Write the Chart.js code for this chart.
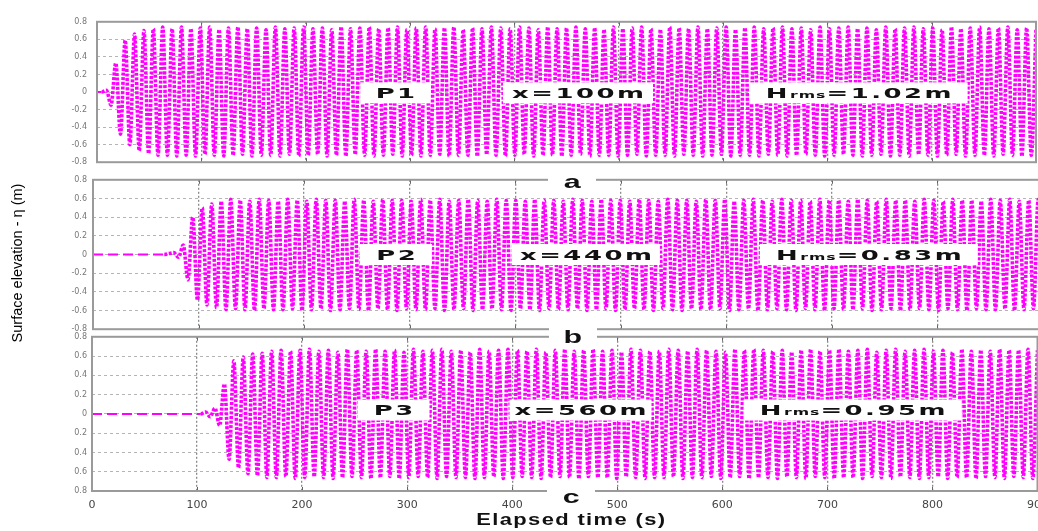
<!DOCTYPE html>
<html>
<head>
<meta charset="utf-8">
<script src="https://cdn.jsdelivr.net/npm/chart.js@4.4.1/dist/chart.umd.min.js"></script>
<style>
  html, body { margin: 0; padding: 0; background: #fff; overflow: hidden; }
  #stage { position: relative; width: 1038px; height: 531px; overflow: hidden; background: #fff; }
  #stage canvas { position: absolute; left: 0; }
  .tag { position: absolute; width: 48px; height: 14px; line-height: 14px; background: #fff; text-align: center;
         font: bold 19px "Liberation Sans", Arial, sans-serif; color: #111; }
  .tag span { display: inline-block; transform: scaleX(1.6); }
  #xtitle { position: absolute; left: 371px; top: 511px; width: 400px; height: 20px; line-height: 20px; text-align: center;
            font: bold 16px "Liberation Sans", Arial, sans-serif; color: #111; }
  #xtitle span { display: inline-block; transform: scaleX(1.37); letter-spacing: 1px; }
  #ytitle { position: absolute; left: -81px; top: 253px; width: 200px; height: 20px; line-height: 20px; text-align: center;
            font: 14.5px "Liberation Sans", Arial, sans-serif; color: #000; transform: rotate(-90deg); }
</style>
</head>
<body>
<div id="stage">
  <canvas id="panelA" width="1048" height="170" style="top:7px;width:1048px;height:170px"></canvas>
  <canvas id="panelB" width="1055" height="171" style="top:169px;width:1055px;height:171px"></canvas>
  <canvas id="panelC" width="1056" height="189" style="top:327px;width:1056px;height:189px"></canvas>
  <div class="tag" style="left:548px;top:171px"><span>a</span></div>
  <div class="tag" style="left:549px;top:326px"><span>b</span></div>
  <div class="tag" style="left:547px;top:486px"><span>c</span></div>
  <div id="xtitle"><span>Elapsed time (s)</span></div>
  <div id="ytitle">Surface elevation - η (m)</div>
</div>
<script>
// Sample times (s) of the crest / trough record
const timeS = [
  0,4.5,9,13.5,18,22.5,27,31.5,36,40.5,
  45,49.5,54,58.5,63,67.5,72,76.5,81,85.5,
  90,94.5,99,103.5,108,112.5,117,121.5,126,130.5,
  135,139.5,144,148.5,153,157.5,162,166.5,171,175.5,
  180,184.5,189,193.5,198,202.5,207,211.5,216,220.5,
  225,229.5,234,238.5,243,247.5,252,256.5,261,265.5,
  270,274.5,279,283.5,288,292.5,297,301.5,306,310.5,
  315,319.5,324,328.5,333,337.5,342,346.5,351,355.5,
  360,364.5,369,373.5,378,382.5,387,391.5,396,400.5,
  405,409.5,414,418.5,423,427.5,432,436.5,441,445.5,
  450,454.5,459,463.5,468,472.5,477,481.5,486,490.5,
  495,499.5,504,508.5,513,517.5,522,526.5,531,535.5,
  540,544.5,549,553.5,558,562.5,567,571.5,576,580.5,
  585,589.5,594,598.5,603,607.5,612,616.5,621,625.5,
  630,634.5,639,643.5,648,652.5,657,661.5,666,670.5,
  675,679.5,684,688.5,693,697.5,702,706.5,711,715.5,
  720,724.5,729,733.5,738,742.5,747,751.5,756,760.5,
  765,769.5,774,778.5,783,787.5,792,796.5,801,805.5,
  810,814.5,819,823.5,828,832.5,837,841.5,846,850.5,
  855,859.5,864,868.5,873,877.5,882,886.5,891,895.5,
  900
];

// Surface elevation (m) at P1, x = 100 m
const etaP1 = [
  0, 0, 0.02, -0.15, 0.33, -0.48, 0.59, -0.60, 0.66, -0.67,
  0.70, -0.70, 0.72, -0.72, 0.74, -0.72, 0.72, -0.73, 0.74, -0.72,
  0.72, -0.73, 0.73, -0.71, 0.74, -0.72, 0.71, -0.73, 0.73, -0.72,
  0.74, -0.71, 0.72, -0.73, 0.73, -0.72, 0.71, -0.72, 0.74, -0.73,
  0.72, -0.71, 0.73, -0.73, 0.74, -0.72, 0.72, -0.71, 0.73, -0.73,
  0.71, -0.72, 0.74, -0.73, 0.72, -0.71, 0.73, -0.72, 0.74, -0.73,
  0.72, -0.72, 0.73, -0.71, 0.74, -0.73, 0.71, -0.72, 0.73, -0.73,
  0.74, -0.72, 0.72, -0.71, 0.73, -0.73, 0.74, -0.72, 0.71, -0.72,
  0.73, -0.73, 0.72, -0.71, 0.74, -0.72, 0.73, -0.73, 0.72, -0.72,
  0.74, -0.71, 0.73, -0.73, 0.71, -0.72, 0.74, -0.72, 0.72, -0.73,
  0.73, -0.72, 0.74, -0.71, 0.72, -0.73, 0.73, -0.72, 0.71, -0.72,
  0.74, -0.73, 0.72, -0.72, 0.73, -0.71, 0.74, -0.73, 0.72, -0.72,
  0.71, -0.72, 0.74, -0.73, 0.73, -0.71, 0.72, -0.72, 0.74, -0.73,
  0.72, -0.72, 0.73, -0.71, 0.74, -0.73, 0.71, -0.72, 0.73, -0.72,
  0.74, -0.73, 0.72, -0.71, 0.73, -0.72, 0.74, -0.73, 0.72, -0.72,
  0.73, -0.71, 0.71, -0.72, 0.74, -0.73, 0.72, -0.72, 0.73, -0.71,
  0.74, -0.72, 0.72, -0.73, 0.73, -0.72, 0.71, -0.71, 0.74, -0.73,
  0.72, -0.72, 0.73, -0.73, 0.74, -0.71, 0.72, -0.72, 0.73, -0.73,
  0.71, -0.72, 0.74, -0.71, 0.72, -0.73, 0.73, -0.72, 0.74, -0.72,
  0.72, -0.73, 0.73, -0.71, 0.74, -0.72, 0.71, -0.73, 0.73, -0.72,
  0.72
];

// Surface elevation (m) at P2, x = 440 m
const etaP2 = [
  0, 0, 0, 0, 0, 0, 0, 0, 0, 0,
  0, 0, 0, 0, 0, 0, 0.01, 0.02, -0.03, 0.10,
  -0.27, 0.40, -0.49, 0.50, -0.54, 0.54, -0.57, 0.57, -0.59, 0.59,
  -0.58, 0.58, -0.59, 0.57, -0.60, 0.59, -0.58, 0.58, -0.59, 0.57,
  -0.59, 0.59, -0.58, 0.58, -0.60, 0.57, -0.59, 0.59, -0.58, 0.58,
  -0.60, 0.58, -0.59, 0.57, -0.58, 0.59, -0.59, 0.58, -0.60, 0.57,
  -0.58, 0.59, -0.59, 0.58, -0.60, 0.58, -0.58, 0.57, -0.59, 0.59,
  -0.59, 0.58, -0.58, 0.59, -0.60, 0.57, -0.59, 0.58, -0.58, 0.59,
  -0.60, 0.58, -0.59, 0.57, -0.58, 0.59, -0.59, 0.58, -0.60, 0.58,
  -0.58, 0.57, -0.59, 0.59, -0.60, 0.58, -0.58, 0.58, -0.59, 0.57,
  -0.59, 0.59, -0.58, 0.58, -0.60, 0.57, -0.59, 0.59, -0.58, 0.58,
  -0.60, 0.58, -0.59, 0.57, -0.58, 0.59, -0.59, 0.58, -0.60, 0.57,
  -0.58, 0.59, -0.59, 0.58, -0.60, 0.58, -0.58, 0.57, -0.59, 0.59,
  -0.59, 0.58, -0.58, 0.59, -0.60, 0.57, -0.59, 0.58, -0.58, 0.59,
  -0.60, 0.58, -0.59, 0.57, -0.58, 0.59, -0.59, 0.58, -0.60, 0.58,
  -0.58, 0.57, -0.59, 0.59, -0.60, 0.58, -0.58, 0.58, -0.59, 0.57,
  -0.59, 0.59, -0.58, 0.58, -0.60, 0.57, -0.59, 0.59, -0.58, 0.58,
  -0.60, 0.58, -0.59, 0.57, -0.58, 0.59, -0.59, 0.58, -0.60, 0.57,
  -0.58, 0.59, -0.59, 0.58, -0.60, 0.58, -0.58, 0.57, -0.59, 0.59,
  -0.59, 0.58, -0.58, 0.59, -0.60, 0.57, -0.59, 0.58, -0.58, 0.59,
  -0.59
];

// Surface elevation (m) at P3, x = 560 m
const etaP3 = [
  0, 0, 0, 0, 0, 0, 0, 0, 0, 0,
  0, 0, 0, 0, 0, 0, 0, 0, 0, 0,
  0, 0, 0, 0, 0.02, -0.03, 0.06, -0.12, 0.31, -0.47,
  0.55, -0.56, 0.59, -0.62, 0.62, -0.64, 0.63, -0.66, 0.65, -0.66,
  0.66, -0.65, 0.65, -0.67, 0.66, -0.66, 0.67, -0.65, 0.65, -0.66,
  0.66, -0.67, 0.64, -0.66, 0.67, -0.65, 0.66, -0.66, 0.65, -0.67,
  0.67, -0.66, 0.65, -0.65, 0.66, -0.67, 0.64, -0.66, 0.67, -0.65,
  0.65, -0.66, 0.66, -0.67, 0.67, -0.65, 0.65, -0.66, 0.66, -0.66,
  0.64, -0.67, 0.67, -0.66, 0.65, -0.65, 0.66, -0.67, 0.67, -0.66,
  0.66, -0.65, 0.65, -0.66, 0.67, -0.67, 0.64, -0.66, 0.66, -0.65,
  0.67, -0.66, 0.65, -0.67, 0.66, -0.65, 0.67, -0.66, 0.65, -0.66,
  0.66, -0.67, 0.64, -0.65, 0.67, -0.66, 0.66, -0.67, 0.65, -0.66,
  0.65, -0.66, 0.67, -0.65, 0.66, -0.67, 0.65, -0.66, 0.67, -0.66,
  0.66, -0.65, 0.65, -0.67, 0.64, -0.66, 0.67, -0.65, 0.66, -0.67,
  0.67, -0.66, 0.66, -0.66, 0.65, -0.67, 0.66, -0.65, 0.64, -0.66,
  0.66, -0.67, 0.67, -0.65, 0.65, -0.66, 0.66, -0.67, 0.67, -0.66,
  0.65, -0.66, 0.66, -0.67, 0.67, -0.65, 0.64, -0.66, 0.66, -0.67,
  0.67, -0.65, 0.65, -0.66, 0.66, -0.67, 0.67, -0.66, 0.65, -0.65,
  0.66, -0.67, 0.64, -0.66, 0.67, -0.66, 0.65, -0.67, 0.66, -0.65,
  0.65, -0.66, 0.67, -0.67, 0.66, -0.65, 0.66, -0.66, 0.67, -0.67,
  0.66
];

// Axis ticks
const xTickValues = [0, 100, 200, 300, 400, 500, 600, 700, 800, 900];
const xTickLabels = ['0', '100', '200', '300', '400', '500', '600', '700', '800', '900'];
const yTickValues = [-0.8, -0.6, -0.4, -0.2, 0, 0.2, 0.4, 0.6, 0.8];
const yTickLabelsA = ['-0.8', '-0.6', '-0.4', '-0.2', '0', '0.2', '0.4', '0.6', '0.8'];
const yTickLabelsB = ['-0.8', '-0.6', '-0.4', '-0.2', '0', '0.2', '0.4', '0.6', '0.8'];
const yTickLabelsC = ['0.8', '0.6', '0.4', '0.2', '0', '0.2', '0.4', '0.6', '0.8'];

// Station annotations: [text, style] parts
const notesA = [
  { t: 286, v: -0.01, w: 70, parts: [['P1', 'big']] },
  { t: 461, v: -0.01, w: 150, parts: [['x=100m', 'big']] },
  { t: 730, v: -0.01, w: 218, parts: [['H', 'big'], ['rms', 'sub'], ['=1.02m', 'big']] }
];
const notesB = [
  { t: 287, v: 0, w: 72, parts: [['P2', 'big']] },
  { t: 467, v: 0, w: 148, parts: [['x=440m', 'big']] },
  { t: 735, v: 0, w: 218, parts: [['H', 'big'], ['rms', 'sub'], ['=0.83m', 'big']] }
];
const notesC = [
  { t: 287, v: 0.04, w: 72, parts: [['P3', 'big']] },
  { t: 465, v: 0.04, w: 142, parts: [['x=560m', 'big']] },
  { t: 724, v: 0.04, w: 218, parts: [['H', 'big'], ['rms', 'sub'], ['=0.95m', 'big']] }
];

const MAGENTA = '#ff00ff';
const BIG_FONT = 'bold 14px "DejaVu Sans", sans-serif';
const SUB_FONT = 'bold 8.5px "DejaVu Sans", sans-serif';
const STRETCH = 1.85;

// Box frame with inward tick marks
const framePlugin = {
  id: 'frame',
  afterDatasetsDraw(chart) {
    const { ctx, chartArea: a, scales } = chart;
    ctx.save();
    ctx.strokeStyle = '#666';
    ctx.lineWidth = 1;
    xTickValues.forEach(v => {
      const px = Math.round(scales.x.getPixelForValue(v)) + 0.5;
      ctx.beginPath();
      ctx.moveTo(px, a.top); ctx.lineTo(px, a.top + 4);
      ctx.moveTo(px, a.bottom); ctx.lineTo(px, a.bottom - 4);
      ctx.stroke();
    });
    ctx.strokeStyle = '#9a9a9a';
    ctx.lineWidth = 2;
    ctx.strokeRect(a.left, a.top, a.right - a.left, a.bottom - a.top);
    ctx.restore();
  }
};

// White label boxes with wide bold lettering
const notesPlugin = {
  id: 'panelNotes',
  afterDraw(chart, args, opts) {
    const { ctx, scales } = chart;
    const boxH = 21;
    (opts.notes || []).forEach(n => {
      const cx = scales.x.getPixelForValue(n.t);
      const cy = scales.y.getPixelForValue(n.v);
      ctx.save();
      ctx.fillStyle = '#fff';
      ctx.fillRect(cx - n.w / 2, cy - boxH / 2, n.w, boxH);
      const glyphs = [];
      let total = 0;
      n.parts.forEach(([s, kind]) => {
        ctx.font = kind === 'sub' ? SUB_FONT : BIG_FONT;
        const gap = kind === 'sub' ? 1 : 2.5;
        for (const ch of s) {
          const w = ctx.measureText(ch).width * STRETCH;
          glyphs.push({ ch, kind, w, gap });
          total += w + gap;
        }
      });
      total -= glyphs.length ? glyphs[glyphs.length - 1].gap : 0;
      let x = cx - total / 2;
      const base = cy + 5.3;
      ctx.fillStyle = '#111';
      ctx.textBaseline = 'alphabetic';
      ctx.textAlign = 'left';
      glyphs.forEach(g => {
        ctx.font = g.kind === 'sub' ? SUB_FONT : BIG_FONT;
        ctx.save();
        ctx.translate(x, base);
        ctx.scale(STRETCH, 1);
        ctx.fillText(g.ch, 0, 0);
        ctx.restore();
        x += g.w + g.gap;
      });
      ctx.restore();
    });
  }
};

function isFlat(c) { return c.p0.parsed.y === 0 && c.p1.parsed.y === 0; }

function buildPanel(id, eta, yLabels, notes, cfg) {
  return new Chart(document.getElementById(id), {
    type: 'line',
    data: {
      datasets: [{
        data: timeS.map((t, i) => ({ x: t, y: eta[i] })),
        borderColor: MAGENTA,
        borderWidth: 3.6,
        borderDash: [3, 1.6],
        pointRadius: 0,
        fill: false,
        cubicInterpolationMode: 'monotone',
        segment: {
          borderDash: c => isFlat(c) ? [10, 5] : undefined,
          borderWidth: c => isFlat(c) ? 2 : undefined
        }
      }]
    },
    options: {
      responsive: false,
      animation: false,
      events: [],
      layout: { padding: { top: 8, bottom: cfg.padBottom, left: 0, right: 12 } },
      plugins: { legend: { display: false }, tooltip: { enabled: false }, panelNotes: { notes } },
      scales: {
        x: {
          type: 'linear',
          min: 0, max: 900,
          afterBuildTicks: s => { s.ticks = xTickValues.map(v => ({ value: v })); },
          afterFit: s => { s.height = cfg.xHeight; },
          grid: { color: '#8a8a8a', lineWidth: 1.3, drawTicks: false },
          border: { display: false, dash: [2, 2] },
          ticks: {
            display: cfg.showX,
            padding: 8,
            maxRotation: 0,
            autoSkip: false,
            color: '#444',
            font: { family: '"DejaVu Sans", sans-serif', size: 11 },
            callback: (v, i) => xTickLabels[i]
          }
        },
        y: {
          min: -0.8, max: 0.8,
          afterBuildTicks: s => { s.ticks = yTickValues.map(v => ({ value: v })); },
          afterFit: s => { s.width = cfg.yWidth; },
          grid: { color: '#b4b4b4', lineWidth: 1, drawTicks: false },
          border: { display: false, dash: [3, 3] },
          ticks: {
            padding: cfg.yPad,
            autoSkip: false,
            color: '#777',
            font: { family: '"DejaVu Sans", sans-serif', size: 8 },
            callback: (v, i) => yLabels[i]
          }
        }
      }
    },
    plugins: [framePlugin, notesPlugin]
  });
}

buildPanel('panelA', etaP1, yTickLabelsA, notesA, { yWidth: 97, yPad: 10, xHeight: 0, padBottom: 8, showX: false });
buildPanel('panelB', etaP2, yTickLabelsB, notesB, { yWidth: 93, yPad: 6, xHeight: 0, padBottom: 8, showX: false });
buildPanel('panelC', etaP3, yTickLabelsC, notesC, { yWidth: 92, yPad: 5, xHeight: 25, padBottom: 0, showX: true });
</script>
</body>
</html>
